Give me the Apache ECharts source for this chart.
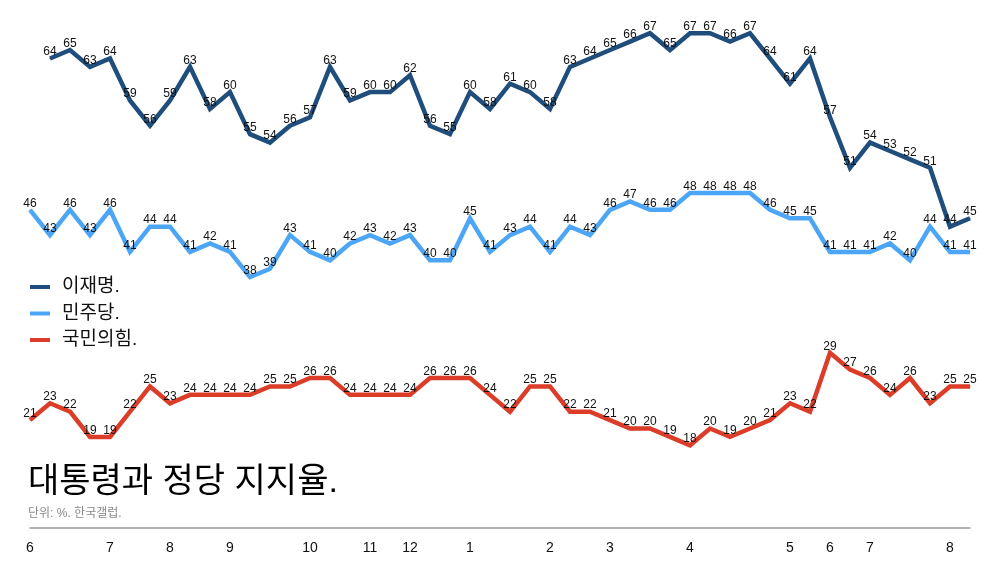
<!DOCTYPE html>
<html lang="ko">
<head>
    <meta charset="UTF-8">
    <title>대통령과 정당 지지율</title>
    <script src="https://cdn.jsdelivr.net/npm/echarts@6/dist/echarts.min.js"></script>
    <style>
        html, body { margin: 0; padding: 0; background: #fff; }
        #chart { width: 1000px; height: 563px; }
    </style>
</head>
<body>
<div id="chart"></div>
<script>
    // 이재명: 첫 조사 값 없음
    var leeData = [null, 64, 65, 63, 64, 59, 56, 59, 63, 58, 60, 55, 54, 56, 57, 63, 59, 60, 60, 62, 56,
        55, 60, 58, 61, 60, 58, 63, 64, 65, 66, 67, 65, 67, 67, 66, 67, 64, 61, 64, 57,
        51, 54, 53, 52, 51, 44, 45];
    var dpkData = [46, 43, 46, 43, 46, 41, 44, 44, 41, 42, 41, 38, 39, 43, 41, 40, 42, 43, 42, 43,
        40, 40, 45, 41, 43, 44, 41, 44, 43, 46, 47, 46, 46, 48, 48, 48, 48, 46, 45, 45,
        41, 41, 41, 42, 40, 44, 41, 41];
    var ppData = [21, 23, 22, 19, 19, 22, 25, 23, 24, 24, 24, 24, 25, 25, 26, 26, 24, 24, 24, 24,
        26, 26, 26, 24, 22, 25, 25, 22, 22, 21, 20, 20, 19, 18, 20, 19, 20, 21, 23, 22,
        29, 27, 26, 24, 26, 23, 25, 25];

    // 월 눈금: 조사 순번과 표시할 월
    var tickIndex = [0, 4, 7, 10, 14, 17, 19, 22, 26, 29, 33, 38, 40, 42, 46];
    var tickLabels = ['6', '7', '8', '9', '10', '11', '12', '1', '2', '3', '4', '5', '6', '7', '8'];

    var categories = [];
    for (var i = 0; i < ppData.length; i++) {
        categories.push(String(i));
    }

    var fontFamily = "'Liberation Sans', 'Noto Sans CJK KR', sans-serif";

    function makeSeries(name, data, color) {
        return {
            name: name,
            type: 'line',
            data: data,
            symbol: 'circle',
            symbolSize: 1,
            itemStyle: { color: color },
            lineStyle: { color: color, width: 4.5, join: 'miter', cap: 'butt' },
            label: {
                show: true,
                position: 'top',
                distance: 0,
                fontSize: 12,
                color: '#111',
                fontFamily: fontFamily
            },
            emphasis: { disabled: true },
            animation: false
        };
    }

    var chart = echarts.init(document.getElementById('chart'));
    chart.setOption({
        backgroundColor: '#fff',
        textStyle: { fontFamily: fontFamily },
        title: [{
            text: '대통령과 정당 지지율.',
            left: 28,
            top: 466,
            padding: 0,
            textStyle: { fontSize: 34, fontWeight: 'normal', color: '#000', fontFamily: fontFamily }
        }, {
            text: '단위: %. 한국갤럽.',
            left: 28,
            top: 508,
            padding: 0,
            textStyle: { fontSize: 12, fontWeight: 'normal', color: '#888', fontFamily: fontFamily }
        }],
        legend: {
            orient: 'vertical',
            left: 30,
            top: 277,
            padding: 0,
            icon: 'rect',
            itemWidth: 20,
            itemHeight: 4,
            itemGap: 6.5,
            textStyle: { fontSize: 19, color: '#111', lineHeight: 20, padding: [0, 0, 0, 7] },
            data: ['이재명.', '민주당.', '국민의힘.']
        },
        grid: { left: 30, right: 30, top: 8, bottom: 50.4 },
        xAxis: {
            type: 'category',
            data: categories,
            boundaryGap: false,
            offset: 15.4,
            axisLine: { show: true, lineStyle: { color: '#9a9a9a', width: 1.5 } },
            axisTick: { show: false },
            axisLabel: {
                margin: 13,
                fontSize: 14,
                color: '#111',
                interval: function (idx) { return tickIndex.indexOf(idx) >= 0; },
                formatter: function (v, idx) {
                    var k = tickIndex.indexOf(idx);
                    return k >= 0 ? tickLabels[k] : '';
                }
            },
            splitLine: { show: false }
        },
        yAxis: {
            type: 'value',
            min: 10,
            max: 70,
            show: false
        },
        series: [
            makeSeries('이재명.', leeData, '#1f4e7d'),
            makeSeries('민주당.', dpkData, '#4ca6f5'),
            makeSeries('국민의힘.', ppData, '#db3d28')
        ]
    });
</script>
</body>
</html>
